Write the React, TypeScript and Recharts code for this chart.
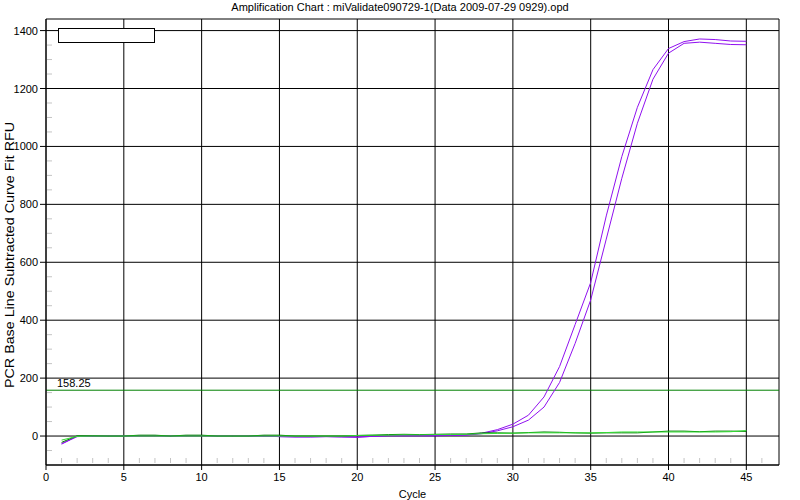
import { LineChart, Line, XAxis, YAxis, CartesianGrid, ReferenceLine, ReferenceArea, Legend } from 'recharts'

const TITLE = 'Amplification Chart : miValidate090729-1(Data 2009-07-29 0929).opd'
const Y_LABEL = 'PCR Base Line Subtracted Curve Fit RFU'
const X_LABEL = 'Cycle'
const THRESHOLD = 158.25

const CYCLES = [
  1, 2, 3, 4, 5, 6, 7, 8, 9, 10, 11, 12, 13, 14, 15, 16, 17, 18, 19, 20, 21, 22, 23,
  24, 25, 26, 27, 28, 29, 30, 31, 32, 33, 34, 35, 36, 37, 38, 39, 40, 41, 42, 43, 44, 45,
]

// two positive wells (purple)
const WELL_A = [
  -26, -2, 0, 0, 0, 1, 1, 0, 1, 1, 0, 0, 0, 0, -2, -3, -3, -2, -3, -4, -1, 1, 1,
  1, 1, 2, 4, 10, 22, 41, 72, 135, 240, 385, 530, 760, 965, 1135, 1265, 1338, 1362, 1371, 1369, 1364, 1363,
]
const WELL_B = [
  -28, -1, 0, 0, 0, 1, 1, 0, 1, 1, 0, 0, 0, 0, -2, -3, -3, -2, -3, -4, -1, 1, 1,
  1, 1, 2, 3, 8, 18, 32, 55, 100, 185, 320, 470, 680, 890, 1080, 1232, 1322, 1356, 1360, 1356, 1352, 1351,
]
// negatives (greens)
const NTC_DARK = [
  -22, 1, 1, 0, 0, 3, 3, 0, 3, 3, 0, 0, 0, 3, 3, 0, 0, 0, 0, 2, 3, 5, 6,
  5, 6, 7, 7, 11, 11, 10, 12, 14, 13, 11, 10, 11, 11, 11, 14, 17, 17, 15, 17, 17, 16,
]
const NTC_LIGHT = [
  -14, -1, 0, 0, 0, 0, 0, 0, 0, 0, 0, 0, 0, 0, 0, 0, 0, 0, 0, 2, 3, 3, 4,
  4, 5, 5, 6, 8, 9, 10, 11, 11, 11, 11, 11, 12, 14, 14, 14, 14, 14, 14, 14, 15, 19,
]

const X_TICKS = [
  0, 1, 2, 3, 4, 5, 6, 7, 8, 9, 10, 11, 12, 13, 14, 15, 16, 17, 18, 19, 20, 21, 22, 23,
  24, 25, 26, 27, 28, 29, 30, 31, 32, 33, 34, 35, 36, 37, 38, 39, 40, 41, 42, 43, 44, 45, 46,
]
const X_GRID = [5, 10, 15, 20, 25, 30, 35, 40, 45]
const Y_TICKS = [
  -50, 0, 50, 100, 150, 200, 250, 300, 350, 400, 450, 500, 550, 600, 650, 700, 750,
  800, 850, 900, 950, 1000, 1050, 1100, 1150, 1200, 1250, 1300, 1350, 1400,
]
const Y_GRID = [0, 200, 400, 600, 800, 1000, 1200, 1400]

const data = CYCLES.map((c, i) => ({
  cycle: c,
  a: WELL_A[i],
  b: WELL_B[i],
  dark: NTC_DARK[i],
  light: NTC_LIGHT[i],
}))

const font = { fontFamily: 'Liberation Sans, Arial, sans-serif', fontSize: 11, fill: '#000' }

const XTick = (props: any) => {
  const { x, y, payload } = props
  const v = payload.value
  if (v % 5 !== 0) {
    return <line x1={x} y1={y - 7} x2={x} y2={y - 2} stroke="#c4c4c4" />
  }
  return (
    <g>
      <line x1={x} y1={y} x2={x} y2={y + 5} stroke="#000" />
      <text x={x} y={y + 16} textAnchor="middle" {...font}>{v}</text>
    </g>
  )
}

const YTick = (props: any) => {
  const { x, y, payload } = props
  const v = payload.value
  if (v % 200 !== 0) {
    return <line x1={x + 1} y1={y} x2={x + 6} y2={y} stroke="#c4c4c4" />
  }
  return (
    <g>
      <line x1={x - 6} y1={y} x2={x} y2={y} stroke="#000" />
      <text x={x - 8} y={y + 4} textAnchor="end" {...font}>{v}</text>
    </g>
  )
}

const ThresholdLabel = (props: any) => {
  const { viewBox } = props
  return (
    <text x={viewBox.x + 11} y={viewBox.y - 3} {...font}>{THRESHOLD}</text>
  )
}

const YLabel = (props: any) => {
  const { viewBox } = props
  const cx = viewBox.x + 9
  const cy = 255
  return (
    <text x={cx} y={cy} transform={`rotate(-90 ${cx} ${cy})`} textAnchor="middle" dominantBaseline="central"
      fontFamily="Liberation Sans, Arial, sans-serif" fontSize={13} fill="#000"
      textLength={266} lengthAdjust="spacingAndGlyphs">
      {Y_LABEL}
    </text>
  )
}

const EmptyLegend = () => (
  <div style={{ width: 97, height: 15, border: '1px solid #000', background: '#fff', boxSizing: 'border-box' }} />
)

export default function App() {
  return (
    <div style={{ position: 'absolute', left: 0, top: 0, width: 800, height: 500, background: '#fff' }}>
      <div style={{
        position: 'absolute', left: 0, top: 1, width: 800, textAlign: 'center',
        fontFamily: 'Liberation Sans, Arial, sans-serif', fontSize: 11, color: '#000',
      }}>
        {TITLE}
      </div>
      <LineChart width={800} height={500} data={data} margin={{ top: 19, right: 21, bottom: 0, left: 0 }}>
        <CartesianGrid stroke="#000" horizontalValues={Y_GRID} verticalValues={X_GRID} />
        <XAxis
          dataKey="cycle"
          type="number"
          domain={[0, 47.1]}
          ticks={X_TICKS}
          interval={0}
          height={35}
          tickSize={0}
          tickMargin={0}
          tickLine={false}
          tick={XTick}
          axisLine={{ stroke: '#000' }}
          label={{ value: X_LABEL, position: 'insideBottom', offset: 2, ...font }}
        />
        <YAxis
          type="number"
          domain={[-100, 1440]}
          ticks={Y_TICKS}
          interval={0}
          width={46}
          tickSize={0}
          tickMargin={0}
          tickLine={false}
          tick={YTick}
          axisLine={{ stroke: '#000' }}
          label={YLabel}
        />
        <ReferenceArea x1={0} x2={47.1} y1={-100} y2={1440} fill="none" stroke="#000" ifOverflow="visible" />
        <ReferenceLine y={THRESHOLD} stroke="#008000" label={ThresholdLabel} />
        <Legend layout="vertical" align="center" verticalAlign="middle" content={EmptyLegend}
          wrapperStyle={{ left: 58, top: 28, width: 97, height: 15 }} />
        <Line type="linear" dataKey="a" stroke="#9010f0" strokeWidth={1} dot={false} isAnimationActive={false} />
        <Line type="linear" dataKey="b" stroke="#9010f0" strokeWidth={1} dot={false} isAnimationActive={false} />
        <Line type="linear" dataKey="dark" stroke="#007a00" strokeWidth={1} dot={false} isAnimationActive={false} />
        <Line type="linear" dataKey="light" stroke="#33dd33" strokeWidth={1} dot={false} isAnimationActive={false} />
      </LineChart>
    </div>
  )
}
